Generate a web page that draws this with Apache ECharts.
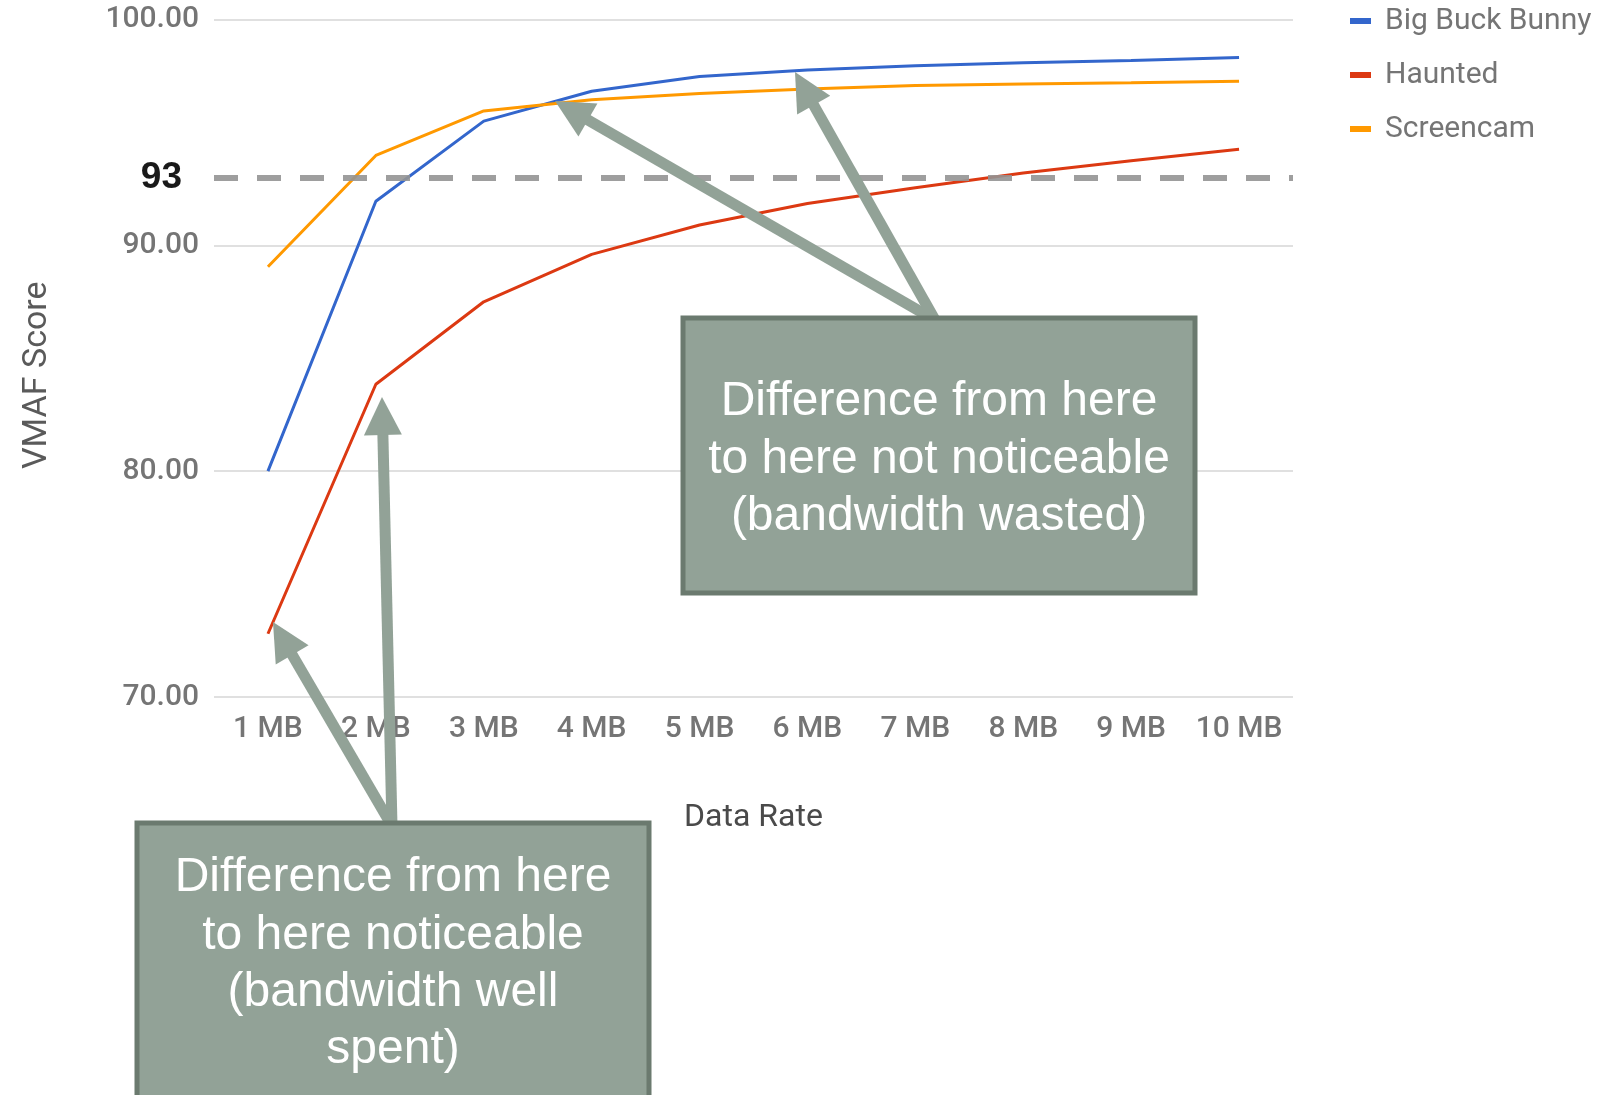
<!DOCTYPE html>
<html>
<head>
<meta charset="utf-8">
<script src="https://cdn.jsdelivr.net/npm/echarts@6/dist/echarts.min.js"></script>
<style>
html,body{margin:0;padding:0;background:#fff;}
#chart{width:1600px;height:1095px;}
</style>
</head>
<body>
<div id="chart"></div>
<script>
var categories = ['1 MB','2 MB','3 MB','4 MB','5 MB','6 MB','7 MB','8 MB','9 MB','10 MB'];
var bigBuckBunny = [80.0, 91.95, 95.5, 96.82, 97.48, 97.76, 97.95, 98.08, 98.18, 98.32];
var haunted = [72.8, 83.85, 87.5, 89.6, 90.9, 91.85, 92.55, 93.2, 93.75, 94.25];
var screencam = [89.05, 93.98, 95.95, 96.45, 96.72, 96.92, 97.08, 97.14, 97.2, 97.27];
var threshold = 93;
var yTicks = [70, 80, 90, 100];

var seriesNames = ['Big Buck Bunny','Haunted','Screencam'];
var seriesColors = ['#3366cc','#dc3912','#ff9900'];

var annoTop = ['Difference from here','to here not noticeable','(bandwidth wasted)'];
var annoBottom = ['Difference from here','to here noticeable','(bandwidth well','spent)'];

var chart = echarts.init(document.getElementById('chart'));

function arrow(x1, y1, x2, y2) {
  var dx = x2 - x1, dy = y2 - y1;
  var len = Math.sqrt(dx*dx + dy*dy);
  var ux = dx/len, uy = dy/len;
  var px = -uy, py = ux;
  var hl = 38, hw = 19;
  var bx = x2 - ux*hl, by = y2 - uy*hl;
  return [
    {type:'line', shape:{x1:x1, y1:y1, x2:bx + ux*2, y2:by + uy*2},
     style:{stroke:'#92a297', lineWidth:11, lineCap:'butt'}, z:100},
    {type:'polygon', shape:{points:[[x2,y2],[bx+px*hw,by+py*hw],[bx-px*hw,by-py*hw]]},
     style:{fill:'#92a297'}, z:100}
  ];
}

function box(x, y, w, h, lines, cx, firstY) {
  var els = [{type:'rect', shape:{x:x, y:y, width:w, height:h},
    style:{fill:'#92a297', stroke:'#6b7a6f', lineWidth:5}, z:101}];
  lines.forEach(function(t, i){
    els.push({type:'text', x:cx, y:firstY + i*57.3, z:102,
      style:{text:t, fill:'#ffffff', font:'48px "Liberation Sans", Arial, sans-serif',
        align:'center', verticalAlign:'middle'}});
  });
  return els;
}

var graphics = [];
graphics = graphics.concat(arrow(935, 320, 555, 101));
graphics = graphics.concat(arrow(935, 320, 795, 72));
graphics = graphics.concat(arrow(392, 826, 382, 397));
graphics = graphics.concat(arrow(392, 826, 273, 622));
graphics = graphics.concat(box(683, 318, 512, 275, annoTop, 939, 402));
graphics = graphics.concat(box(137, 823, 512, 300, annoBottom, 393, 878));

var series = seriesNames.map(function(n, i){
  var data = [bigBuckBunny, haunted, screencam][i];
  var s = {
    name:n, type:'line', data:data, showSymbol:false, symbol:'none',
    lineStyle:{width:3, color:seriesColors[i]}, itemStyle:{color:seriesColors[i]},
    emphasis:{disabled:true}, z:3
  };
  if (i === 0) {
    s.markLine = {
      silent:true, symbol:'none', animation:false,
      lineStyle:{type:[24,19], color:'#939393', width:6, opacity:0.9},
      label:{show:true, position:'start', formatter:String(threshold), distance:32,
        color:'#000', fontWeight:'bold', fontSize:37, fontFamily:'"Liberation Sans", Arial, sans-serif'},
      data:[{yAxis:threshold}]
    };
  }
  return s;
});

chart.setOption({
  animation:false,
  backgroundColor:'#ffffff',
  grid:{left:214, right:307, top:19.5, bottom:398, containLabel:false, outerBoundsMode:'none'},
  legend:{
    orient:'vertical', left:1345, top:1, itemWidth:21, itemHeight:6, itemGap:24,
    icon:'rect', data:seriesNames,
    textStyle:{fontFamily:'Roboto, sans-serif', fontSize:30, color:'#757575', lineHeight:30, padding:[0,0,0,9]}
  },
  xAxis:{
    type:'category', data:categories, boundaryGap:true,
    axisLine:{show:false}, axisTick:{show:false},
    axisLabel:{fontFamily:'Roboto, sans-serif', fontSize:30, fontWeight:500, color:'#757575', margin:17, interval:0},
    name:'Data Rate', nameLocation:'middle', nameGap:105,
    nameTextStyle:{fontFamily:'Roboto, sans-serif', fontSize:32, color:'#4a4a4a'}
  },
  yAxis:{
    type:'value', min:yTicks[0], max:yTicks[yTicks.length-1], interval:10,
    axisLine:{show:false}, axisTick:{show:false},
    splitLine:{lineStyle:{color:'#d6d6d6', width:1.5}},
    axisLabel:{fontFamily:'Roboto, sans-serif', fontSize:30, fontWeight:500, color:'#757575', margin:15,
      formatter:function(v){return v.toFixed(2);}},
    name:'VMAF Score', nameLocation:'middle', nameGap:160, nameRotate:90,
    nameTextStyle:{fontFamily:'Roboto, sans-serif', fontSize:34, color:'#5a5a5a', padding:[0,34,0,0]}
  },
  series:series,
  graphic:graphics
});
</script>
</body>
</html>
